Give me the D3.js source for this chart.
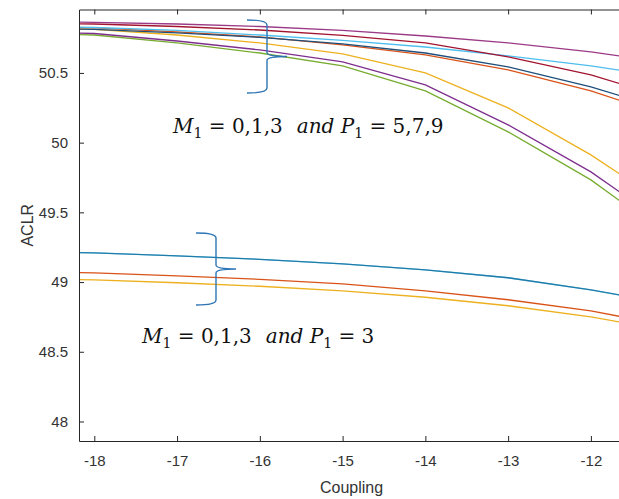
<!DOCTYPE html>
<html>
<head>
<meta charset="utf-8">
<script src="https://cdn.jsdelivr.net/npm/d3@7"></script>
<style>
  body { margin: 0; background: #fff; }
  svg { display: block; }
</style>
</head>
<body>
<svg id="chart" width="619" height="499"></svg>
<script>
// Coupling values (x) where the curves were sampled
var coupling = [-19, -18, -17, -16, -15, -14, -13, -12, -11];

// upper group: M1 = 0,1,3 and P1 = 5,7,9
var upPurple = [50.873, 50.862, 50.851, 50.833, 50.805, 50.765, 50.715, 50.651, 50.565];
var upRed    = [50.858, 50.851, 50.833, 50.808, 50.769, 50.715, 50.615, 50.486, 50.306];
var upCyan   = [50.837, 50.826, 50.805, 50.772, 50.733, 50.686, 50.622, 50.550, 50.464];
var upBlue   = [50.823, 50.812, 50.787, 50.755, 50.708, 50.643, 50.543, 50.400, 50.220];
var upOrange = [50.833, 50.823, 50.794, 50.758, 50.701, 50.629, 50.522, 50.371, 50.177];
var upYellow = [50.823, 50.812, 50.772, 50.715, 50.636, 50.500, 50.249, 49.912, 49.518];
var upViolet = [50.794, 50.783, 50.729, 50.665, 50.579, 50.414, 50.127, 49.790, 49.375];
var upGreen  = [50.787, 50.772, 50.715, 50.643, 50.550, 50.371, 50.077, 49.733, 49.303];

// lower group: M1 = 0,1,3 and P1 = 3
var loBlue   = [49.220, 49.210, 49.188, 49.163, 49.131, 49.088, 49.031, 48.944, 48.837];
var loRed    = [49.077, 49.066, 49.045, 49.020, 48.987, 48.937, 48.873, 48.794, 48.679];
var loYellow = [49.027, 49.016, 48.995, 48.970, 48.937, 48.891, 48.830, 48.751, 48.643];

var xTicks = [-18, -17, -16, -15, -14, -13, -12];
var yTicks = [48, 48.5, 49, 49.5, 50, 50.5];

var series = [
  {v: upGreen,  c: "#77AC30"},
  {v: upViolet, c: "#7E2F8E"},
  {v: upYellow, c: "#EDB120"},
  {v: upOrange, c: "#D95319"},
  {v: upBlue,   c: "#1f4f7a"},
  {v: upCyan,   c: "#4DBEEE"},
  {v: upRed,    c: "#A2142F"},
  {v: upPurple, c: "#9b3a86"},
  {v: loYellow, c: "#EDB120"},
  {v: loRed,    c: "#D95319"},
  {v: loBlue,   c: "#4DBEEE"},
  {v: loBlue,   c: "#0b5f8a", o: 0.7}
];

var svg = d3.select("#chart");
var pLeft = 79, pRight = 624, pTop = 9.5, pBottom = 441;

var x = d3.scaleLinear().domain([-18.185, -11.6]).range([pLeft, pRight]);
var y = d3.scaleLinear().domain([47.86, 50.955]).range([pBottom, pTop]);

svg.append("clipPath").attr("id", "plotclip")
  .append("rect")
  .attr("x", pLeft).attr("y", pTop)
  .attr("width", pRight - pLeft).attr("height", pBottom - pTop);

var line = d3.line()
  .x(function(d, i) { return x(coupling[i]); })
  .y(function(d) { return y(d); });

svg.append("g").attr("clip-path", "url(#plotclip)")
  .selectAll("path")
  .data(series)
  .enter()
  .append("path")
    .attr("d", function(s) { return line(s.v); })
    .attr("fill", "none")
    .attr("stroke", function(s) { return s.c; })
    .attr("stroke-opacity", function(s) { return s.o || 1; })
    .attr("stroke-width", 1.3);

// axes, ticks pointing inward like matlab
function styleAxis(g) {
  g.selectAll("path, line").attr("stroke", "#262626");
  g.selectAll("text")
    .attr("fill", "#333")
    .style("font-family", "Liberation Sans, Arial, sans-serif")
    .style("font-size", "15px");
}

svg.append("g")
  .attr("transform", "translate(0," + pBottom + ")")
  .call(d3.axisBottom(x).tickValues(xTicks).tickSizeInner(-5).tickSizeOuter(0)
    .tickPadding(14).tickFormat(function(d) { return String(d); }))
  .call(styleAxis);

svg.append("g")
  .attr("transform", "translate(0," + pTop + ")")
  .call(d3.axisTop(x).tickValues(xTicks).tickSizeInner(-5).tickSizeOuter(0).tickFormat(""))
  .call(styleAxis);

svg.append("g")
  .attr("transform", "translate(" + pLeft + ",0)")
  .call(d3.axisLeft(y).tickValues(yTicks).tickSizeInner(-5).tickSizeOuter(0)
    .tickPadding(11).tickFormat(function(d) { return String(d); }))
  .call(styleAxis);

svg.append("text")
  .attr("x", (pLeft + pRight) / 2).attr("y", 493)
  .attr("text-anchor", "middle")
  .style("font-family", "Liberation Sans, Arial, sans-serif")
  .style("font-size", "16px").style("fill", "#333")
  .text("Coupling");

svg.append("text")
  .attr("transform", "translate(33," + ((pTop + pBottom) / 2) + ") rotate(-90)")
  .attr("text-anchor", "middle")
  .style("font-family", "Liberation Sans, Arial, sans-serif")
  .style("font-size", "16px").style("fill", "#333")
  .text("ACLR");

// curly braces
function brace(xv, y0, y1, hook, tip) {
  var ym = (y0 + y1) / 2;
  return "M" + (xv - hook) + "," + y0 +
    " Q" + xv + "," + y0 + " " + xv + "," + (y0 + 5) +
    " L" + xv + "," + (ym - 4) +
    " Q" + xv + "," + ym + " " + (xv + tip) + "," + ym +
    " Q" + xv + "," + ym + " " + xv + "," + (ym + 4) +
    " L" + xv + "," + (y1 - 5) +
    " Q" + xv + "," + y1 + " " + (xv - hook) + "," + y1;
}
svg.append("path").attr("d", brace(267, 20, 93, 20, 20))
  .attr("fill", "none").attr("stroke", "#2e75b6").attr("stroke-width", 1.4);
svg.append("path").attr("d", brace(216, 233, 305, 20, 20))
  .attr("fill", "none").attr("stroke", "#2e75b6").attr("stroke-width", 1.4);

// annotation text
function label(xp, yp, pvals) {
  var t = svg.append("text").attr("x", xp).attr("y", yp)
    .style("font-family", "DejaVu Serif, serif").style("font-size", "20px").style("fill", "#111");
  t.append("tspan").style("font-style", "italic").text("M");
  t.append("tspan").attr("dy", 5).style("font-size", "14px").text("1");
  t.append("tspan").attr("dy", -5).text(" = 0,1,3");
  t.append("tspan").attr("dx", 14).style("font-style", "italic").text("and P");
  t.append("tspan").attr("dy", 5).style("font-size", "14px").text("1");
  t.append("tspan").attr("dy", -5).text(" = " + pvals);
}
label(173, 133, "5,7,9");
label(142, 343, "3");
</script>
</body>
</html>
